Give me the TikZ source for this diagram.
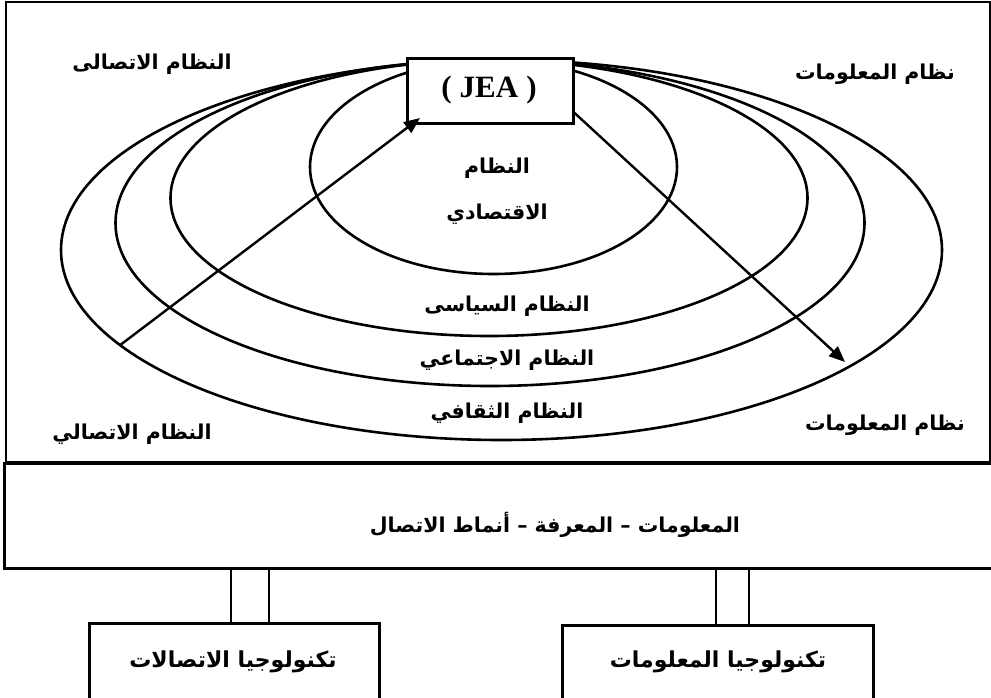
\documentclass[tikz,border=0pt]{standalone}
\usepackage{fontspec}
\usetikzlibrary{shapes.geometric,arrows.meta}
\TeXXeTstate=1
\newfontfamily\arabicfont[Script=Arabic]{DejaVu Sans}
\newfontfamily\latinserif{Liberation Serif}
\newcommand{\ar}[1]{{\arabicfont\bfseries\beginR #1\endR}}
\begin{document}
\begin{tikzpicture}[x=1pt,y=-1pt,
  frame/.style={draw, line width=2.6pt},
  ring/.style={draw, ellipse, line width=2.6pt, inner sep=0pt, outer sep=0pt},
  lbl/.style={font=\fontsize{20.5}{22}\selectfont, inner sep=0pt},
  blbl/.style={font=\fontsize{22}{24}\selectfont, inner sep=0pt},
  conn/.style={line width=2.4pt, -{Triangle[length=16pt,width=13pt]}},
  dbl/.style={line width=1.5pt}
]
\useasboundingbox (0,0) rectangle (991,697);
\clip (0,0) rectangle (991,697);
% frames
\draw[frame] (6,2) rectangle (990,462);
\node[frame, minimum width=995pt, minimum height=105pt, anchor=north west, inner sep=0pt] (info) at (3,462) {};
\node[lbl] (infot) at (555,525) {\ar{المعلومات – المعرفة – أنماط الاتصال}};
% ellipses
\node[ring, minimum width=367pt, minimum height=214pt] (e1) at (493.5,167) {};
\node[ring, minimum width=637pt, minimum height=276pt] (e2) at (489,198) {};
\node[ring, minimum width=749pt, minimum height=326pt] (e3) at (490,223) {};
\node[ring, minimum width=881pt, minimum height=380pt] (e4) at (501.5,250) {};
% JEA box
\node[frame, fill=white, minimum width=166pt, minimum height=65pt, inner sep=0pt, anchor=north west] (jea) at (406,57) {};
\node[font=\latinserif\bfseries\fontsize{31}{33}\selectfont, inner sep=0pt] (jeat) at (489,90) {(\hspace{8pt}JEA\hspace{8pt})};
% arrows
\coordinate (a1end) at (420,118);
\coordinate (a2end) at (845,362);
\draw[conn] (e4.194.7) -- (a1end);
\draw[conn] (jea.east |- 0,113) -- (a2end);
% labels
\node[lbl] (l1) at (152,64) {\ar{النظام الاتصالى}};
\node[lbl] (l2) at (875,74) {\ar{نظام المعلومات}};
\node[lbl] (l3) at (132,434) {\ar{النظام الاتصالي}};
\node[lbl] (l4) at (885,425) {\ar{نظام المعلومات}};
\node[lbl] (l5) at (497,168) {\ar{النظام}};
\node[lbl] (l6) at (497,214) {\ar{الاقتصادي}};
\node[lbl] (l7) at (507,306) {\ar{النظام السياسى}};
\node[lbl] (l8) at (507,360) {\ar{النظام الاجتماعي}};
\node[lbl] (l9) at (507,413) {\ar{النظام الثقافي}};
% bottom boxes
\node[frame, minimum width=290pt, minimum height=90pt, inner sep=0pt, anchor=north west] (tc) at (88,622) {};
\node[frame, minimum width=311pt, minimum height=90pt, inner sep=0pt, anchor=north west] (ti) at (561,624) {};
\node[blbl] (tct) at (233,662) {\ar{تكنولوجيا الاتصالات}};
\node[blbl] (tit) at (718,662) {\ar{تكنولوجيا المعلومات}};
% double connectors
\draw[dbl] (info.south -| 231,0) -- (tc.north -| 231,0);
\draw[dbl] (info.south -| 269,0) -- (tc.north -| 269,0);
\draw[dbl] (info.south -| 716,0) -- (ti.north -| 716,0);
\draw[dbl] (info.south -| 749,0) -- (ti.north -| 749,0);
\end{tikzpicture}
\end{document}
